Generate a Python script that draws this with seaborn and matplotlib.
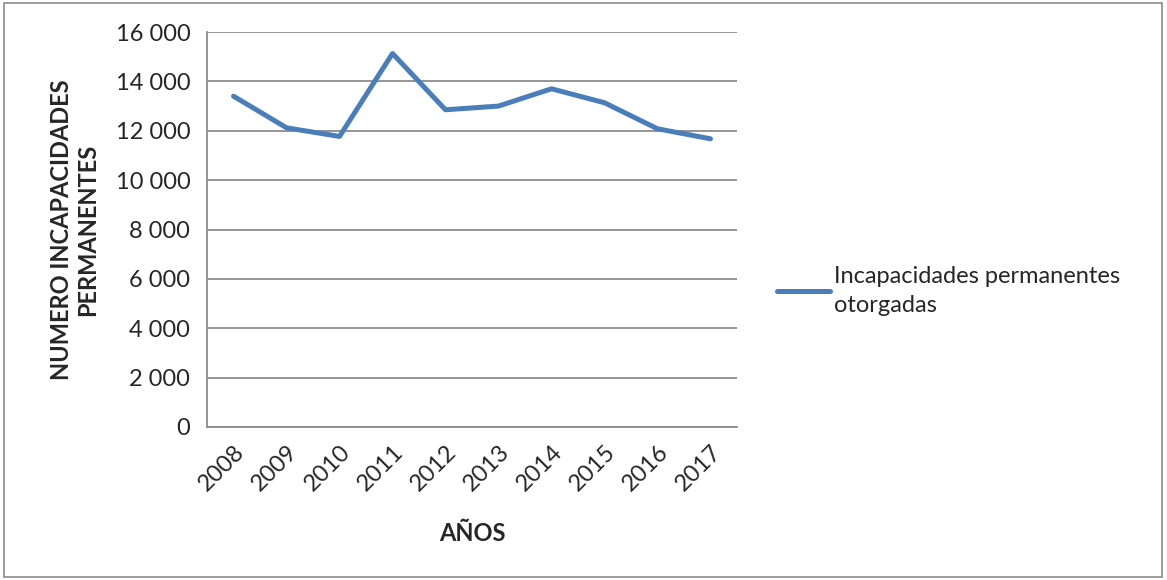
import pandas as pd
import matplotlib
matplotlib.use('Agg')
import matplotlib.pyplot as plt
import seaborn as sns
from matplotlib.ticker import FuncFormatter
from matplotlib.patches import Rectangle

# Data
years = ['2008', '2009', '2010', '2011', '2012', '2013', '2014', '2015', '2016', '2017']
incapacidades = [13400, 12120, 11770, 15130, 12850, 13000, 13700, 13135, 12080, 11675]
series_name = 'Incapacidades permanentes\notorgadas'

df = pd.DataFrame({'year': years, 'value': incapacidades})

sns.set_style('white')
plt.rcParams['font.family'] = ['Lato', 'DejaVu Sans']

fig = plt.figure(figsize=(11.67, 5.8), dpi=100)
ax = fig.add_axes([0.1774, 0.2638, 0.4541, 0.681])

sns.lineplot(data=df, x='year', y='value', sort=False, color='#4A7EBB',
             linewidth=3.6, label=series_name, ax=ax, solid_capstyle='round')

ax.set_xlim(-0.5, len(years) - 0.5)
ax.set_ylim(0, 16000)
ax.set_yticks(range(0, 16001, 2000))
ax.yaxis.set_major_formatter(FuncFormatter(lambda v, p: f'{int(v):,}'.replace(',', ' ')))
ax.grid(axis='y', color='#8c8c8c', linewidth=1.3)
ax.set_axisbelow(True)

for side in ['top', 'right']:
    ax.spines[side].set_visible(False)
for side in ['left', 'bottom']:
    ax.spines[side].set_color('#8c8c8c')
    ax.spines[side].set_linewidth(1.3)

ax.tick_params(axis='y', direction='out', length=6, width=1.3, color='#8c8c8c',
               labelsize=17, pad=6)
ax.tick_params(axis='x', length=0, labelsize=17, pad=10)
plt.setp(ax.get_xticklabels(), rotation=45, ha='right', rotation_mode='anchor')

ax.set_xlabel('AÑOS', fontsize=17, fontweight='bold', labelpad=20)
ax.set_ylabel('NUMERO INCAPACIDADES\nPERMANENTES', fontsize=17, fontweight='bold',
              labelpad=12, linespacing=1.15)

leg = ax.legend(loc='center left', bbox_to_anchor=(1.058, 0.345), frameon=False,
                fontsize=17, handlelength=2.25, handletextpad=0.15, borderaxespad=0)
for t in leg.get_texts():
    t.set_linespacing(1.45)

fig.patches.append(Rectangle((0.003, 0.005), 0.993, 0.99, transform=fig.transFigure,
                             fill=False, edgecolor='#8c8c8c', linewidth=1.2))

plt.savefig('out.png', dpi=100)
